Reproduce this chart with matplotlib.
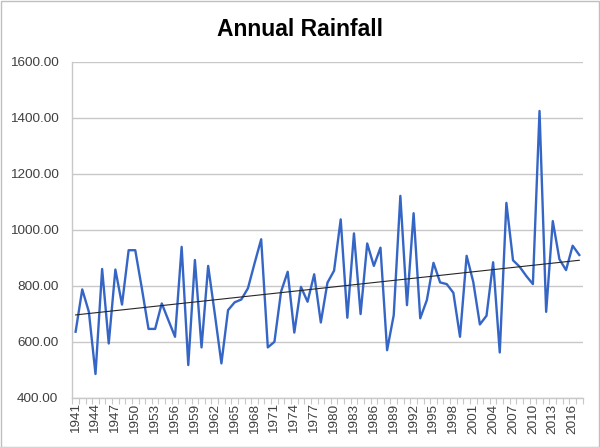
import numpy as np
import matplotlib
matplotlib.use("Agg")
import matplotlib.pyplot as plt
from matplotlib.patches import Rectangle

# annual rainfall, 1941-2017
years = list(range(1941, 2018))
rainfall = [
    636, 787, 707, 485, 860, 594, 858, 733, 927, 927,
    790, 646, 646, 737, 677, 618, 939, 517, 892, 580,
    871, 700, 523, 713, 741, 751, 791, 880, 966, 580,
    600, 779, 850, 633, 796, 743, 841, 669, 811, 854,
    1037, 686, 987, 699, 951, 871, 936, 570, 695, 1121,
    731, 1059, 684, 749, 882, 812, 806, 775, 618, 907,
    814, 662, 693, 884, 562, 1096, 891, 868, 835, 806,
    1424, 707, 1031, 895, 856, 943, 910,
]
label_years = years[::3]
y_ticks = [400, 600, 800, 1000, 1200, 1400, 1600]

plt.rcParams["font.family"] = ["Liberation Sans", "DejaVu Sans"]
text_col = "#404040"

fig = plt.figure(figsize=(6.0, 4.47), dpi=100)
ax = fig.add_axes([0.1205, 0.110, 0.8505, 0.752])

x = np.array(years)
y = np.array(rainfall)
ax.plot(x, y, color="#3566C6", linewidth=1.7, zorder=3)

# linear trend line
slope, icpt = np.polyfit(x, y, 1)
ax.plot(x, slope * x + icpt, color="#262626", linewidth=0.8, zorder=4)

ax.set_xlim(years[0] - 0.5, years[-1] + 0.5)
ax.set_ylim(y_ticks[0], y_ticks[-1])
ax.set_yticks(y_ticks)
ax.set_yticklabels([f"{v:.2f}" for v in y_ticks], fontsize=9.7, color=text_col)
ax.yaxis.grid(True, color="#c8c8c8", linewidth=1.0)
ax.set_axisbelow(True)
ax.tick_params(axis="y", length=0, pad=10)

ax.set_xticks(label_years)
ax.set_xticklabels([str(v) for v in label_years], rotation=90, fontsize=9.7, color=text_col)
ax.set_xticks(np.arange(years[0] - 0.5, years[-1] + 1.0, 1.0), minor=True)
ax.tick_params(axis="x", which="major", length=0, pad=4)
ax.tick_params(axis="x", which="minor", length=4, color="#c8c8c8", width=0.8)

for side in ["top", "right"]:
    ax.spines[side].set_visible(False)
for side in ["left", "bottom"]:
    ax.spines[side].set_color("#c8c8c8")
    ax.spines[side].set_linewidth(1.0)

fig.text(0.5, 0.935, "Annual Rainfall", ha="center", va="center",
         fontsize=16.5, fontweight="bold", color="black")

fig.patches.append(Rectangle((0.001, 0.001), 0.997, 0.997, transform=fig.transFigure,
                             fill=False, edgecolor="#bfbfbf", linewidth=1.0))

fig.savefig("out.png", dpi=100)
plt.close(fig)
